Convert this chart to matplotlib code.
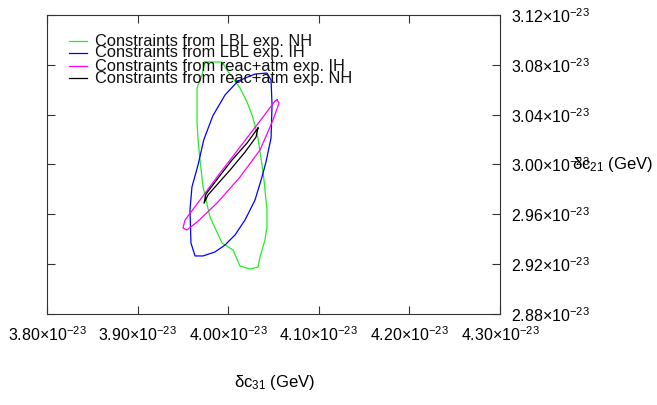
import matplotlib
matplotlib.use('Agg')
import matplotlib.pyplot as plt

plt.rcParams['font.family'] = ['Liberation Sans', 'DejaVu Sans']
plt.rcParams['mathtext.fontset'] = 'custom'
plt.rcParams['mathtext.rm'] = 'Liberation Sans'
plt.rcParams['mathtext.it'] = 'Liberation Sans:italic'

# contour values in units of 1e-23 GeV
lbl_nh_x = [3.9744, 3.9932, 3.9987, 4.0130, 4.0208, 4.0274, 4.0329, 4.0373, 4.0395,
            4.0428, 4.0428, 4.0406, 4.0351, 4.0329, 4.0241, 4.0130, 4.0053, 3.9932,
            3.9799, 3.9722, 3.9689, 3.9667, 3.9656, 3.9656, 3.9711, 3.9744]
lbl_nh_y = [3.0823, 3.0823, 3.0759, 3.0614, 3.0502, 3.0373, 3.0213, 2.9996, 2.9876,
            2.9635, 2.9498, 2.9394, 2.9258, 2.9177, 2.9161, 2.9185, 2.9314, 2.9370,
            2.9579, 2.9819, 3.0036, 3.0197, 3.0341, 3.0614, 3.0718, 3.0823]

lbl_ih_x = [4.0108, 4.0296, 4.0428, 4.0473, 4.0484, 4.0473, 4.0417, 4.0373, 4.0296,
            4.0186, 4.0075, 3.9965, 3.9854, 3.9722, 3.9634, 3.9589, 3.9578, 3.9600,
            3.9667, 3.9730, 3.9830, 3.9965, 4.0108]
lbl_ih_y = [3.0670, 3.0726, 3.0734, 3.0678, 3.0478, 3.0213, 3.0020, 2.9900, 2.9715,
            2.9555, 2.9434, 2.9354, 2.9298, 2.9266, 2.9266, 2.9370, 2.9635, 2.9820,
            2.9996, 3.0197, 3.0390, 3.0558, 3.0670]

ra_ih_x = [4.0539, 4.0561, 4.0495, 4.0351, 4.0130, 3.9876, 3.9656, 3.9545,
           3.9501, 3.9523, 3.9689, 3.9910, 4.0164, 4.0384, 4.0517, 4.0539]
ra_ih_y = [3.0518, 3.0493, 3.0357, 3.0116, 2.9899, 2.9690, 2.9538, 2.9474,
           2.9490, 2.9554, 2.9715, 2.9932, 3.0172, 3.0381, 3.0510, 3.0518]

ra_nh_x = [4.0329, 4.0307, 4.0186, 4.0020, 3.9854, 3.9777, 3.9733,
           3.9755, 3.9888, 4.0042, 4.0208, 4.0329]
ra_nh_y = [3.0293, 3.0220, 3.0100, 2.9955, 2.9819, 2.9755, 2.9690,
           2.9763, 2.9891, 3.0036, 3.0172, 3.0293]

labels = ['Constraints from LBL exp. NH', 'Constraints from LBL exp. IH',
          'Constraints from reac+atm exp. IH', 'Constraints from reac+atm exp. NH']
colors = ['#22ee22', '#0000ff', '#ff00ff', 'black']

x_ticks = [3.80, 3.90, 4.00, 4.10, 4.20, 4.30]
y_ticks = [2.88, 2.92, 2.96, 3.00, 3.04, 3.08, 3.12]


def main():
    fig = plt.figure(figsize=(6.57, 4.05), dpi=100)
    ax = fig.add_axes([47 / 657, 91 / 405, 453 / 657, 299 / 405])

    curves = [(lbl_nh_x, lbl_nh_y), (lbl_ih_x, lbl_ih_y),
              (ra_ih_x, ra_ih_y), (ra_nh_x, ra_nh_y)]
    for (xs, ys), c in zip(curves, colors):
        ax.plot(xs, ys, color=c, lw=0.9)

    ax.set_xlim(3.80, 4.30)
    ax.set_ylim(2.88, 3.12)
    ax.set_xticks(x_ticks)
    ax.set_xticklabels(['%.2f×10$^{-23}$' % v for v in x_ticks])
    ax.set_yticks(y_ticks)
    ax.set_yticklabels(['%.2f×10$^{-23}$' % v for v in y_ticks])
    ax.tick_params(direction='in', length=6, width=0.8, labelsize=11.5,
                   top=True, right=True, left=True, bottom=True,
                   labelleft=False, labelright=True, color='#333333')
    ax.tick_params(axis='x', pad=8)
    ax.tick_params(axis='y', pad=8)
    for s in ax.spines.values():
        s.set_color('#333333')
        s.set_linewidth(0.8)

    # legend drawn by hand, gnuplot style (rows overlap)
    rows = [0.913, 0.873, 0.829, 0.789]
    for lab, c, yy in zip(labels, colors, rows):
        ax.plot([0.0486, 0.0883], [yy, yy], color=c, lw=0.9, transform=ax.transAxes)
        ax.text(0.106, yy, lab, transform=ax.transAxes, fontsize=11.8,
                va='center', ha='left', color='#111111')

    fig.text(275 / 657, 1 - 383 / 405, 'δc$_{31}$ (GeV)', fontsize=12,
             ha='center', va='center')
    fig.text(572 / 657, 1 - 165 / 405, 'δc$_{21}$ (GeV)', fontsize=12,
             ha='left', va='center')

    fig.savefig('out.png', dpi=100)


if __name__ == '__main__':
    main()
